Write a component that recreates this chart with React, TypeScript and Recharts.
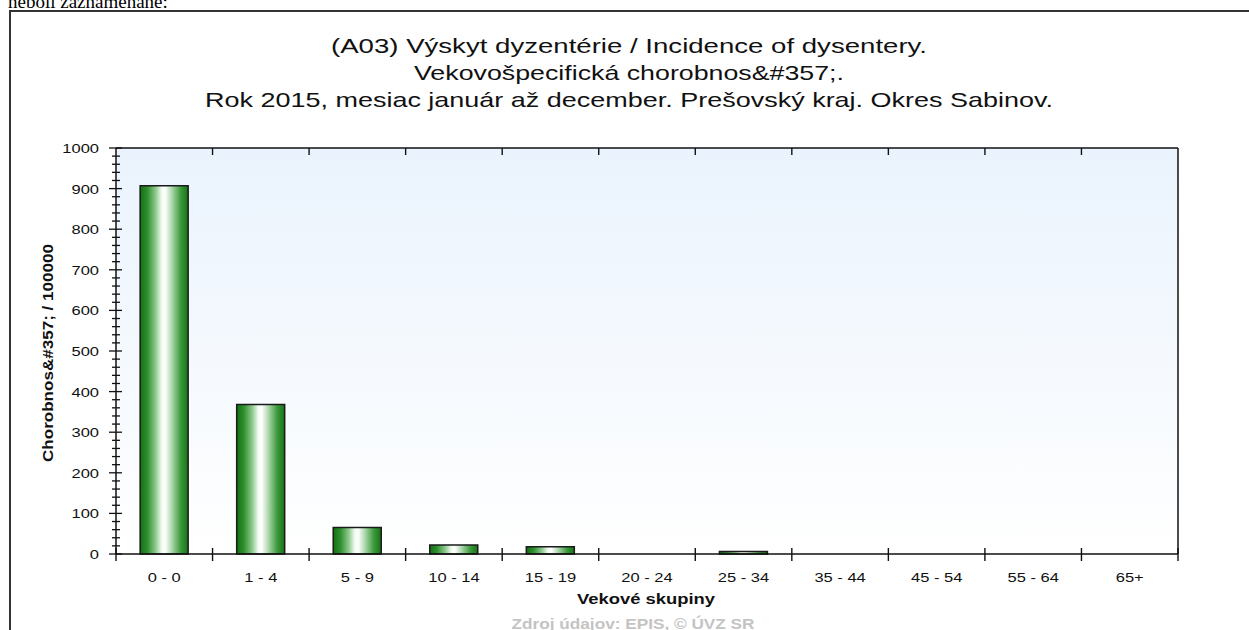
import React from 'react';
import { BarChart, Bar, XAxis, YAxis, CartesianGrid } from 'recharts';

const ageGroups = ['0 - 0', '1 - 4', '5 - 9', '10 - 14', '15 - 19', '20 - 24', '25 - 34', '35 - 44', '45 - 54', '55 - 64', '65+'];
const morbidity = [907, 368, 65, 22, 18, 0, 6, 0, 0, 0, 0];
const yMajorTicks = [0, 100, 200, 300, 400, 500, 600, 700, 800, 900, 1000];
const yMinorStep = 20;
const titleLines = [
  '(A03) Výskyt dyzentérie / Incidence of dysentery.',
  'Vekovošpecifická chorobnos&#357;.',
  'Rok 2015, mesiac január až december. Prešovský kraj. Okres Sabinov.',
];
const titleWidths = [596, 430, 848];
const yAxisLabel = 'Chorobnos&#357; / 100000';
const xAxisLabel = 'Vekové skupiny';
const sourceText = 'Zdroj údajov: EPIS, © ÚVZ SR';
const pageText = 'neboli zaznamenané:';

const data = ageGroups.map((g, i) => ({ group: g, value: morbidity[i] }));
const yAllTicks: number[] = [];
yMajorTicks.forEach((t, i) => {
  if (i < yMajorTicks.length - 1) {
    for (let v = t; v < yMajorTicks[i + 1]; v += yMinorStep) yAllTicks.push(v);
  } else yAllTicks.push(t);
});

const FONT = '"Liberation Sans", Arial, Helvetica, sans-serif';
const SX = 1.27;

function BottomTick(props: any) {
  const { x, y, payload, index } = props;
  const half = payload && payload.offset ? payload.offset : 48.3;
  const isLast = index === ageGroups.length - 1;
  return (
    <g>
      <line x1={x - half} x2={x - half} y1={y - 6} y2={y + 7} stroke="#111" strokeWidth={1.4} />
      {isLast && <line x1={x + half} x2={x + half} y1={y - 6} y2={y + 7} stroke="#111" strokeWidth={1.4} />}
      <text transform={`translate(${x},${y + 28}) scale(${SX},1)`} textAnchor="middle" fontSize={13} fontFamily={FONT} fill="#111">
        {payload.value}
      </text>
    </g>
  );
}

function TopTick(props: any) {
  const { x, y, payload, index } = props;
  const half = payload && payload.offset ? payload.offset : 48.3;
  if (index === 0) return <g />;
  return <line x1={x - half} x2={x - half} y1={y} y2={y + 7} stroke="#111" strokeWidth={1.4} />;
}

function LeftTick(props: any) {
  const { x, y, payload } = props;
  const v = payload.value;
  const major = v % 100 === 0;
  return (
    <g>
      <line x1={x - (major ? 7 : 4)} x2={x + (major ? 6 : 4)} y1={y} y2={y} stroke="#111" strokeWidth={1.3} />
      {major && (
        <text transform={`translate(${x - 17},${y + 5}) scale(${SX},1)`} textAnchor="end" fontSize={13} fontFamily={FONT} fill="#111">
          {v}
        </text>
      )}
    </g>
  );
}

function RightTick(props: any) {
  const { x, y, payload } = props;
  const v = payload.value;
  const major = v % 100 === 0;
  return (
    <g>
      <line x1={x - (major ? 6 : 4)} x2={x + (major ? 7 : 4)} y1={y} y2={y} stroke="#111" strokeWidth={1.3} />
      {major && (
        <text transform={`translate(${x + 13},${y + 5}) scale(${SX},1)`} textAnchor="start" fontSize={13} fontFamily={FONT} fill="#111">
          {v}
        </text>
      )}
    </g>
  );
}

export default function App() {
  return (
    <div style={{ position: 'fixed', left: 0, top: 0, width: 1249, height: 630, background: '#fff', overflow: 'hidden' }}>
      <svg width={0} height={0} style={{ position: 'absolute' }}>
        <defs>
          <linearGradient id="plotBg" x1="0" y1="0" x2="0" y2="1">
            <stop offset="0%" stopColor="#eaf3fd" />
            <stop offset="100%" stopColor="#ffffff" />
          </linearGradient>
          <linearGradient id="barGrad" x1="0" y1="0" x2="1" y2="0">
            <stop offset="0%" stopColor="#127212" />
            <stop offset="15%" stopColor="#2f8f2f" />
            <stop offset="32%" stopColor="#8cc88c" />
            <stop offset="45%" stopColor="#f2fbf2" />
            <stop offset="52%" stopColor="#ffffff" />
            <stop offset="65%" stopColor="#b2dab2" />
            <stop offset="85%" stopColor="#3a983a" />
            <stop offset="100%" stopColor="#157515" />
          </linearGradient>
        </defs>
      </svg>
      <div style={{ position: 'absolute', left: 0, top: 0 }}>
        <BarChart
          width={1249}
          height={630}
          data={data}
          margin={{ top: 138, right: 11, bottom: 36, left: 56 }}
          barCategoryGap="25%"
        >
          <CartesianGrid horizontal={false} vertical={false} fill="url(#plotBg)" fillOpacity={1} />
          <XAxis
            dataKey="group"
            height={40}
            interval={0}
            tickSize={0}
            tickMargin={0}
            tickLine={false}
            axisLine={{ stroke: '#111', strokeWidth: 1.5 }}
            tick={<BottomTick />}
          />
          <XAxis
            xAxisId="top"
            orientation="top"
            dataKey="group"
            height={10}
            interval={0}
            tickSize={0}
            tickMargin={0}
            tickLine={false}
            axisLine={{ stroke: '#111', strokeWidth: 1.5 }}
            tick={<TopTick />}
          />
          <YAxis
            type="number"
            domain={[0, 1000]}
            ticks={yAllTicks}
            interval={0}
            width={60}
            tickSize={0}
            tickMargin={0}
            tickLine={false}
            axisLine={{ stroke: '#111', strokeWidth: 1.5 }}
            tick={<LeftTick />}
          />
          <YAxis
            yAxisId="right"
            orientation="right"
            type="number"
            domain={[0, 1000]}
            ticks={yAllTicks}
            interval={0}
            width={60}
            tickSize={0}
            tickMargin={0}
            tickLine={false}
            axisLine={{ stroke: '#111', strokeWidth: 1.5 }}
            tick={<RightTick />}
          />
          <Bar dataKey="value" fill="url(#barGrad)" stroke="#1b1b1b" strokeWidth={1.5} isAnimationActive={false} />
        </BarChart>
      </div>
      <svg width={1249} height={630} style={{ position: 'absolute', left: 0, top: 0, pointerEvents: 'none' }}>
        <text x={8} y={8} fontFamily='"Liberation Serif", "Times New Roman", serif' fontSize={19} fill="#000">
          {pageText}
        </text>
        <rect x={10} y={11} width={1300} height={700} fill="none" stroke="#333" strokeWidth={2} />
        {titleLines.map((t, i) => (
          <text
            key={i}
            x={629}
            y={53 + i * 27}
            textAnchor="middle"
            fontSize={21}
            fontFamily={FONT}
            fill="#111"
            textLength={titleWidths[i]}
            lengthAdjust="spacingAndGlyphs"
          >
            {t}
          </text>
        ))}
        <text
          transform="translate(53,353) rotate(-90)"
          textAnchor="middle"
          fontSize={15}
          fontWeight="bold"
          fontFamily={FONT}
          fill="#111"
          textLength={218}
          lengthAdjust="spacingAndGlyphs"
        >
          {yAxisLabel}
        </text>
        <text x={646} y={604} textAnchor="middle" fontSize={14} fontWeight="bold" fontFamily={FONT} fill="#111" textLength={138} lengthAdjust="spacingAndGlyphs">
          {xAxisLabel}
        </text>
        <text x={633} y={629} textAnchor="middle" fontSize={15} fontWeight="bold" fontFamily={FONT} fill="#c4c4c4" textLength={243} lengthAdjust="spacingAndGlyphs">
          {sourceText}
        </text>
      </svg>
    </div>
  );
}
